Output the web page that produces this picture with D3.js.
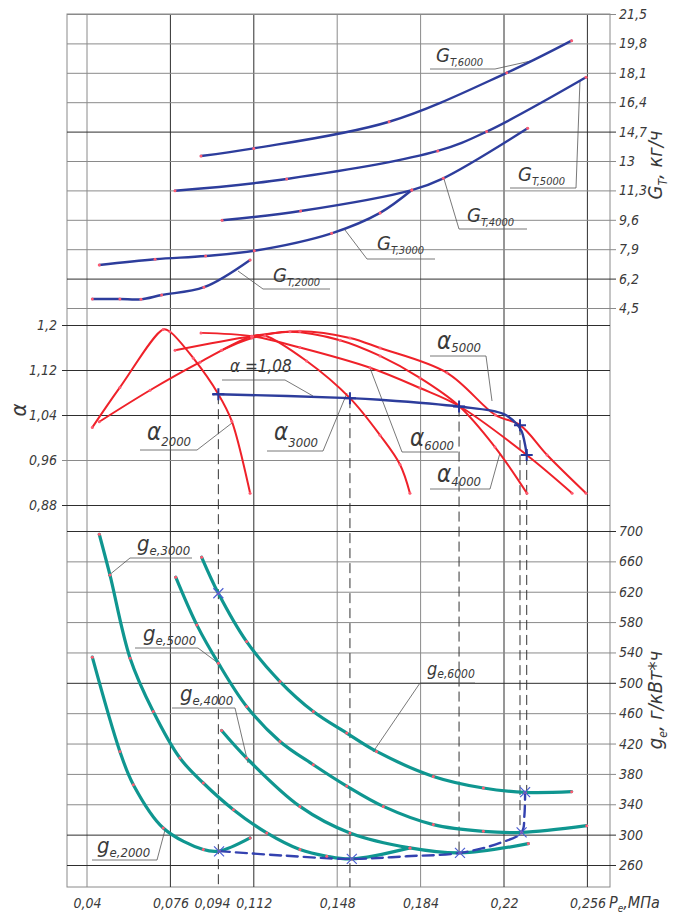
<!DOCTYPE html>
<html>
<head>
<meta charset="utf-8">
<script src="https://cdn.jsdelivr.net/npm/d3@7"></script>
<style>
  body { margin: 0; background: #fff; }
  text { font-family: "Liberation Sans Narrow", "DejaVu Sans Condensed", "DejaVu Sans", sans-serif; font-style: italic; fill: #3a3a3a; }
</style>
</head>
<body>
<div id="chart"></div>
<script>
// --- data (Pe in MPa) ---
const peGrid = [0.04, 0.076, 0.112, 0.148, 0.184, 0.22, 0.256];
const peTicks = [0.04, 0.076, 0.094, 0.112, 0.148, 0.184, 0.22, 0.256];
const gtTicks = [21.5, 19.8, 18.1, 16.4, 14.7, 13, 11.3, 9.6, 7.9, 6.2, 4.5];
const alphaTicks = [1.2, 1.12, 1.04, 0.96, 0.88];
const geTicks = [700, 660, 620, 580, 540, 500, 460, 420, 380, 340, 300, 260];

// fuel consumption G_T, kg/h
const gt2000Pe = [0.0423, 0.0542, 0.0633, 0.0722, 0.0905, 0.1104];
const gt2000 = [5.02, 5.02, 5.0, 5.25, 5.7, 7.28];
const gt3000Pe = [0.0453, 0.0694, 0.0912, 0.1122, 0.1456, 0.1665, 0.1802];
const gt3000 = [6.99, 7.32, 7.51, 7.81, 8.82, 10.0, 11.32];
const gt4000Pe = [0.0983, 0.1322, 0.1802, 0.1938, 0.2302];
const gt4000 = [9.57, 10.11, 11.32, 12.0, 14.89];
const gt5000Pe = [0.078, 0.1262, 0.1914, 0.2125, 0.2554];
const gt5000 = [11.28, 11.96, 13.58, 14.7, 17.84];
const gt6000Pe = [0.0892, 0.112, 0.1704, 0.2212, 0.2492];
const gt6000 = [13.29, 13.73, 15.27, 18.1, 19.96];

// excess air ratio alpha
const a2000Pe = [0.0423, 0.0542, 0.0729, 0.0758, 0.0859, 0.0967, 0.1025, 0.1104];
const a2000 = [1.018, 1.089, 1.192, 1.188, 1.141, 1.077, 1.029, 0.901];
const a3000Pe = [0.0453, 0.0672, 0.0888, 0.1112, 0.1168, 0.1348, 0.1535, 0.1665, 0.1751, 0.1794];
const a3000 = [1.028, 1.084, 1.134, 1.18, 1.181, 1.136, 1.07, 1.004, 0.952, 0.901];
const a4000Pe = [0.0981, 0.1112, 0.1276, 0.1492, 0.1665, 0.1837, 0.2006, 0.2161, 0.2299];
const a4000 = [1.155, 1.177, 1.188, 1.173, 1.145, 1.106, 1.056, 0.983, 0.901];
const a5000Pe = [0.078, 0.1112, 0.1319, 0.1535, 0.1665, 0.1954, 0.2163, 0.2269, 0.2386, 0.2554];
const a5000 = [1.155, 1.18, 1.189, 1.177, 1.159, 1.115, 1.04, 1.022, 0.969, 0.901];
const a6000Pe = [0.0892, 0.1112, 0.1319, 0.1622, 0.1837, 0.2006, 0.2298, 0.2494];
const a6000 = [1.186, 1.18, 1.16, 1.124, 1.088, 1.056, 0.969, 0.901];

// alpha = 1.08 locus
const locusAPe = [0.0945, 0.0967, 0.1535, 0.1665, 0.2006, 0.2197, 0.2255, 0.2276, 0.2291, 0.2298];
const locusA = [1.077, 1.077, 1.07, 1.067, 1.055, 1.042, 1.024, 1.011, 0.987, 0.969];

// specific consumption g_e, g/kWh
const ge2000Pe = [0.0423, 0.0542, 0.06, 0.0729, 0.0902, 0.097, 0.1104];
const ge2000 = [533.8, 409.6, 365.8, 308.8, 280.3, 278.3, 295.7];
const ge3000Pe = [0.0453, 0.0499, 0.0586, 0.0686, 0.0801, 0.0902, 0.1032, 0.1176, 0.1319, 0.1435, 0.1543, 0.1794];
const ge3000 = [695.7, 642.1, 532.5, 462.2, 400.9, 368.0, 332.9, 302.2, 280.3, 271.5, 268.0, 282.5];
const ge4000Pe = [0.0981, 0.1089, 0.1319, 0.1535, 0.1794, 0.201, 0.2305];
const ge4000 = [437.2, 400.9, 337.2, 302.2, 282.5, 275.9, 288.2];
const ge5000Pe = [0.0783, 0.0874, 0.0967, 0.1089, 0.1233, 0.1377, 0.1521, 0.1679, 0.1895, 0.2111, 0.2276, 0.2557];
const ge5000 = [639.1, 576.3, 525.9, 468.8, 422.8, 392.1, 364, 337.2, 313.2, 304.3, 303.0, 311.8];
const ge6000Pe = [0.0895, 0.0967, 0.1089, 0.1233, 0.1377, 0.1521, 0.165, 0.1895, 0.2111, 0.2291, 0.2492];
const ge6000 = [665.4, 618.0, 554.3, 501.7, 462.2, 433.8, 409.6, 376.7, 361.4, 355.7, 356.6];

// g_e locus through the alpha = 1.08 points
const locusEPe = [0.097, 0.1247, 0.1543, 0.178, 0.201, 0.2183, 0.2276, 0.2288, 0.2291];
const locusE = [278.3, 272.4, 268.0, 271.5, 275.9, 289.1, 303.0, 325, 355.7];

// operating points (alpha = 1.08 crossings) and their g_e
const opPe = [0.0967, 0.1535, 0.2006, 0.2269, 0.2298];
const opAlpha = [1.077, 1.07, 1.055, 1.022, 0.969];
const opGe = [278, 268, 276, 303, 356];
const geMarkPe = [0.0967, 0.097, 0.1543, 0.201, 0.2276, 0.2291];
const geMark = [618, 278, 268, 276, 303, 356];

// --- layout ---
const width = 673, height = 915;
const L = 67, R = 610, T = 14, B = 887;

const svg = d3.select('#chart').append('svg')
    .attr('width', width)
    .attr('height', height);

const x = d3.scaleLinear().domain([0.04, 0.256]).range([87, 587.4]);
const yG = d3.scaleLinear().domain([4.5, 21.5]).range([308, 14]);
const yA = d3.scaleLinear().domain([0.88, 1.2]).range([505, 325]);
const yE = d3.scaleLinear().domain([260, 700]).range([865, 531]);

const comma = d => String(d).replace('.', ',');
const gridLight = '#8a8a8a', gridDark = '#2e2e2e';

// frame
svg.append('rect')
    .attr('x', L).attr('y', T)
    .attr('width', R - L).attr('height', B - T)
    .attr('fill', 'none').attr('stroke', gridLight);

// vertical grid
const darkPe = [0.076, 0.112, 0.22, 0.256];
svg.append('g').selectAll('line')
  .data(peGrid)
  .join('line')
    .attr('x1', d => x(d)).attr('x2', d => x(d))
    .attr('y1', T).attr('y2', B)
    .attr('stroke', d => darkPe.includes(d) ? gridDark : gridLight)
    .attr('stroke-width', 1);

function styleAxis(g, dark) {
  g.select('.domain').remove();
  g.selectAll('.tick line')
    .attr('stroke', d => dark.includes(d) ? gridDark : gridLight)
    .attr('stroke-width', 1);
  g.selectAll('.tick text').style('font-size', '14px');
}

// G_T axis (right)
svg.append('g')
    .attr('transform', `translate(${R + 6},0)`)
    .call(d3.axisRight(yG).tickValues(gtTicks).tickSize(-(R + 6 - L)).tickPadding(3).tickFormat(comma))
    .call(g => styleAxis(g, [14.7, 6.2]));

// alpha axis (left)
svg.append('g')
    .attr('transform', `translate(${L - 5},0)`)
    .call(d3.axisLeft(yA).tickValues(alphaTicks).tickSize(-(R - L + 5)).tickPadding(5).tickFormat(comma))
    .call(g => styleAxis(g, [1.2, 1.12, 1.04, 0.88]));

// g_e axis (right)
svg.append('g')
    .attr('transform', `translate(${R + 6},0)`)
    .call(d3.axisRight(yE).tickValues(geTicks).tickSize(-(R + 6 - L)).tickPadding(3).tickFormat(comma))
    .call(g => styleAxis(g, [700, 500, 300, 260]));

// Pe axis (bottom labels only)
svg.append('g')
    .attr('transform', `translate(0,${B})`)
    .call(d3.axisBottom(x).tickValues(peTicks).tickSize(0).tickPadding(11).tickFormat(comma))
    .call(g => g.select('.domain').remove())
    .call(g => g.selectAll('.tick text').style('font-size', '14px'));

// dashed verticals from the alpha points down to g_e
svg.append('g').selectAll('line')
  .data(opPe)
  .join('line')
    .attr('x1', d => x(d)).attr('x2', d => x(d))
    .attr('y1', (d, i) => yA(opAlpha[i]))
    .attr('y2', (d, i) => i < 2 ? B : yE(opGe[i]))
    .attr('stroke', '#333')
    .attr('stroke-width', 1)
    .attr('stroke-dasharray', '10,5');

// annotation leaders
const notes = [
  { m: 'G', s: 'T,6000', x: 436, y: 62, sy: 66, fs: 20, ss: 11, u: [430, 495, 69], l: [495, 69, 535, 60] },
  { m: 'G', s: 'T,5000', x: 518, y: 181, sy: 185, fs: 20, ss: 11, u: [510, 576, 188], l: [576, 188, 580, 80] },
  { m: 'G', s: 'T,4000', x: 467, y: 222, sy: 226, fs: 20, ss: 11, u: [459, 527, 229], l: [459, 229, 444, 179] },
  { m: 'G', s: 'T,3000', x: 377, y: 250, sy: 254, fs: 20, ss: 11, u: [367, 435, 259], l: [367, 259, 345, 230] },
  { m: 'G', s: 'T,2000', x: 273, y: 282, sy: 286, fs: 20, ss: 11, u: [263, 330, 289], l: [263, 289, 238, 271] },
  { m: 'α =1,08', x: 230, y: 372, fs: 17, u: [222, 285, 380], l: [285, 380, 313, 396] },
  { m: 'α', s: '2000', x: 147, y: 440, sy: 446, fs: 24, ss: 13, u: [140, 197, 450], l: [197, 450, 232, 423] },
  { m: 'α', s: '3000', x: 274, y: 440, sy: 447, fs: 24, ss: 13, u: [267, 323, 451], l: [323, 451, 347, 393] },
  { m: 'α', s: '5000', x: 437, y: 349, sy: 352, fs: 24, ss: 13, u: [430, 486, 356], l: [486, 356, 492, 401] },
  { m: 'α', s: '6000', x: 410, y: 446, sy: 450, fs: 24, ss: 13, u: [402, 458, 452], l: [402, 452, 370, 368] },
  { m: 'α', s: '4000', x: 437, y: 482, sy: 486, fs: 24, ss: 13, u: [430, 490, 489], l: [490, 489, 500, 453] },
  { m: 'g', s: 'e,3000', x: 137, y: 551, sy: 555, fs: 22, ss: 13, u: [130, 192, 558], l: [130, 558, 108, 576] },
  { m: 'g', s: 'e,5000', x: 143, y: 641, sy: 645, fs: 22, ss: 13, u: [135, 198, 648], l: [198, 648, 218, 663] },
  { m: 'g', s: 'e,4000', x: 180, y: 701, sy: 705, fs: 22, ss: 13, u: [172, 235, 708], l: [235, 708, 248, 763] },
  { m: 'g', s: 'e,6000', x: 427, y: 675, sy: 678, fs: 18, ss: 12, u: [420, 475, 683], l: [420, 683, 373, 752] },
  { m: 'g', s: 'e,2000', x: 97, y: 853, sy: 857, fs: 22, ss: 13, u: [92, 157, 860], l: [157, 860, 165, 830] }
];

const leaders = svg.append('g').attr('stroke', '#555').attr('stroke-width', 0.8);
notes.forEach(n => {
  leaders.append('line').attr('x1', n.u[0]).attr('x2', n.u[1]).attr('y1', n.u[2]).attr('y2', n.u[2]);
  leaders.append('line').attr('x1', n.l[0]).attr('y1', n.l[1]).attr('x2', n.l[2]).attr('y2', n.l[3]);
});

// curves
const curve = d3.curveCatmullRom.alpha(0.5);
function drawSeries(pe, vals, yScale, color, w, dash) {
  const pts = d3.zip(pe, vals);
  svg.append('path')
      .datum(pts)
      .attr('fill', 'none')
      .attr('stroke', color)
      .attr('stroke-width', w)
      .attr('stroke-linecap', 'round')
      .attr('stroke-dasharray', dash || null)
      .attr('d', d3.line().x(d => x(d[0])).y(d => yScale(d[1])).curve(curve));
  return pts;
}

const blue = '#2d3d9c', red = '#ef2129', teal = '#0f9690';
const dots = [];
[[gt2000Pe, gt2000], [gt3000Pe, gt3000], [gt4000Pe, gt4000], [gt5000Pe, gt5000], [gt6000Pe, gt6000]]
  .forEach(s => dots.push(...drawSeries(s[0], s[1], yG, blue, 2.4).map(p => [x(p[0]), yG(p[1])])));
[[a2000Pe, a2000], [a3000Pe, a3000], [a4000Pe, a4000], [a5000Pe, a5000], [a6000Pe, a6000]]
  .forEach(s => dots.push(...drawSeries(s[0], s[1], yA, red, 2).map(p => [x(p[0]), yA(p[1])])));
[[ge2000Pe, ge2000], [ge3000Pe, ge3000], [ge4000Pe, ge4000], [ge5000Pe, ge5000], [ge6000Pe, ge6000]]
  .forEach(s => dots.push(...drawSeries(s[0], s[1], yE, teal, 3.2).map(p => [x(p[0]), yE(p[1])])));

drawSeries(locusAPe, locusA, yA, blue, 2.4);
drawSeries(locusEPe, locusE, yE, '#3442b0', 2.4, '11,6');

svg.append('g').selectAll('circle')
  .data(dots)
  .join('circle')
    .attr('cx', d => d[0]).attr('cy', d => d[1])
    .attr('r', 1.5)
    .attr('fill', '#ff5c72');

// + markers on the alpha locus
svg.append('g').selectAll('path')
  .data(opPe)
  .join('path')
    .attr('transform', (d, i) => `translate(${x(d)},${yA(opAlpha[i])})`)
    .attr('d', 'M-6,0H6M0,-6V6')
    .attr('stroke', '#26369a')
    .attr('stroke-width', 2);

// x markers on g_e
svg.append('g').selectAll('path')
  .data(geMarkPe)
  .join('path')
    .attr('transform', (d, i) => `translate(${x(d)},${yE(geMark[i])})`)
    .attr('d', 'M-5,-5L5,5M-5,5L5,-5')
    .attr('stroke', '#4d5fd2')
    .attr('stroke-width', 1.2);

// annotation text
notes.forEach(n => {
  const t = svg.append('text')
      .attr('x', n.x).attr('y', n.y)
      .style('font-size', n.fs + 'px')
      .text(n.m);
  if (n.s) {
    t.append('tspan')
        .attr('dy', n.sy - n.y)
        .style('font-size', n.ss + 'px')
        .text(n.s);
  }
});

// axis titles
const tG = svg.append('text')
    .attr('transform', 'translate(662,165) rotate(-90)')
    .attr('text-anchor', 'middle')
    .style('font-size', '20px')
    .text('G');
tG.append('tspan').attr('dy', 5).style('font-size', '12px').text('T');
tG.append('tspan').attr('dy', -5).text(', кг/ч');

svg.append('text')
    .attr('transform', 'translate(26,410) rotate(-90)')
    .attr('text-anchor', 'middle')
    .style('font-size', '22px')
    .text('α');

const tE = svg.append('text')
    .attr('transform', 'translate(662,700) rotate(-90)')
    .attr('text-anchor', 'middle')
    .style('font-size', '20px')
    .text('g');
tE.append('tspan').attr('dy', 5).style('font-size', '12px').text('e');
tE.append('tspan').attr('dy', -5).text(', г/кВт*ч');

const tP = svg.append('text')
    .attr('x', 609).attr('y', 908)
    .style('font-size', '16px')
    .text('P');
tP.append('tspan').attr('dy', 4).style('font-size', '10px').text('e');
tP.append('tspan').attr('dy', -4).text(',МПа');
</script>
</body>
</html>
